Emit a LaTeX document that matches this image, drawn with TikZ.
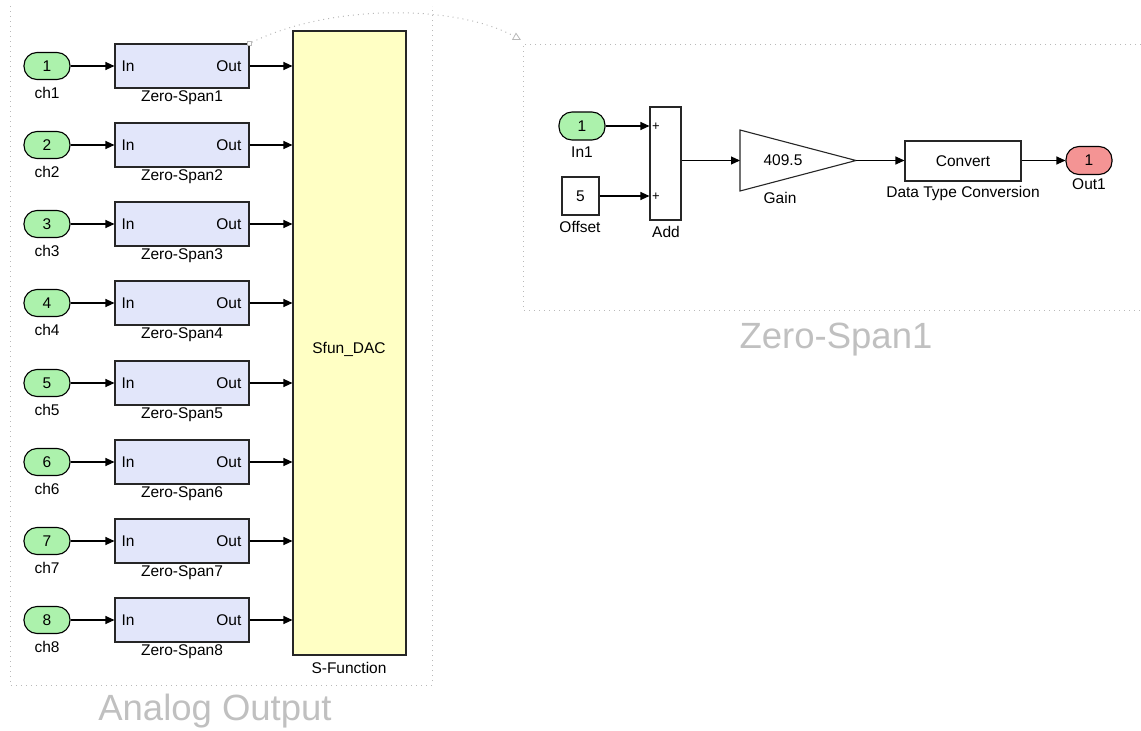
\documentclass[tikz,border=0pt]{standalone}
\usepackage{fontspec}
\setmainfont{Liberation Sans}
\usetikzlibrary{arrows.meta}

\definecolor{portgreen}{RGB}{172,242,172}
\definecolor{portred}{RGB}{244,148,148}
\definecolor{zsfill}{RGB}{226,230,250}
\definecolor{sffill}{RGB}{255,255,196}
\definecolor{framegray}{RGB}{185,185,185}
\definecolor{titlegray}{RGB}{192,192,192}

\begin{document}
\begin{tikzpicture}[x=1pt,y=-1pt,
  font=\fontsize{15.5}{18}\selectfont,
  inport/.style={draw=black, line width=1.1pt, rounded corners=13pt,
    minimum width=46pt, minimum height=27pt, inner sep=0pt},
  zsblock/.style={draw=black!85, line width=1.1pt, fill=zsfill,
    minimum width=134pt, minimum height=44pt, inner sep=0pt},
  plainblock/.style={draw=black!85, line width=1.1pt, fill=white, inner sep=0pt},
  wire/.style={line width=1.1pt, -{Triangle[length=9pt,width=8pt]}},
  txt/.style={inner sep=0pt},
  frame/.style={draw=framegray, line width=1pt, dash pattern=on 1pt off 4pt},
  title/.style={inner sep=0pt, text=titlegray, font=\fontsize{36.5}{40}\selectfont}]

\useasboundingbox (0,0) rectangle (1141,731);

% ---------------- Analog Output subsystem ----------------
\draw[frame] (10,6) -- (10,685) -- (432,685) -- (432,6);
\node[title] (aotitle) at (215,711) {Analog Output};

% S-Function block
\node[draw=black!85, line width=1.1pt, fill=sffill, minimum width=113pt,
      minimum height=624pt, inner sep=0pt] (sf) at (349.5,343) {};
\node[txt] (sfname) at (349,349) {Sfun\_DAC};
\node[txt] (sflabel) at (349,668) {S-Function};

% eight channels: inport -> Zero-Span -> S-Function
\foreach \i/\y in {1/66,2/145,3/224,4/303,5/383,6/462,7/541,8/620}{
  \node[inport, fill=portgreen] (p\i) at (47,\y) {\i};
  \node[txt] (pl\i) at (47,\y+27) {ch\i};
  \node[zsblock] (z\i) at (182,\y) {};
  \node[txt, anchor=west] (zin\i) at ([xshift=7pt]z\i.west) {In};
  \node[txt, anchor=east] (zout\i) at ([xshift=-8pt]z\i.east) {Out};
  \node[txt] (zl\i) at (182,\y+32) {Zero-Span\i};
  \draw[wire] (p\i.east) -- (z\i.west);
  \draw[wire] (z\i.east) -- (z\i.east -| sf.west);
}

% link from Zero-Span1 to its expanded view
\node[draw=framegray, line width=0.8pt, fill=white, minimum size=4pt,
      inner sep=0pt] (lnkstart) at (z1.north east) {};
\coordinate (lnkend) at (521,40);
\draw[frame, -{Triangle[open,length=8pt,width=8pt,line width=0.8pt]}]
  (lnkstart) .. controls (330,4) and (455,4) .. (lnkend);

% ---------------- Zero-Span1 contents ----------------
\draw[frame] (1141,44) -- (523,44) -- (523,310) -- (1141,310);
\node[title] (zstitle) at (836,340) {Zero-Span1};

\node[inport, fill=portgreen, minimum height=28pt] (in1) at (582,126) {1};
\node[txt] (in1l) at (582,152) {In1};

\node[plainblock, minimum width=37pt, minimum height=38pt] (offset) at (580.5,196) {5};
\node[txt] (offsetl) at (580,227) {Offset};

\node[plainblock, minimum width=31pt, minimum height=113pt] (add) at (665.5,163.5) {};
\node[txt, font=\fontsize{13}{15}\selectfont] (plus1) at (656,127) {+};
\node[txt, font=\fontsize{13}{15}\selectfont] (plus2) at (656,197) {+};
\node[txt] (addl) at (666,232) {Add};

\coordinate (gainin) at (740,160.5);
\coordinate (gainout) at (856,160.5);
\draw[black!85, line width=1.1pt, fill=white]
  (740,130) -- (gainout) -- (740,191) -- cycle;
\node[txt] (gainval) at (783,160) {409.5};
\node[txt] (gainl) at (780,198) {Gain};

\node[plainblock, minimum width=116pt, minimum height=40pt] (conv) at (963,161) {Convert};
\node[txt] (convl) at (963,193) {Data Type Conversion};

\node[inport, fill=portred, minimum height=28pt] (out1) at (1089,160.5) {1};
\node[txt] (out1l) at (1089,184) {Out1};

\draw[wire] (in1.east) -- (in1.east -| add.west);
\draw[wire] (offset.east) -- (offset.east -| add.west);
\draw[wire] (add.east |- gainin) -- (gainin);
\draw[wire] (gainout) -- (gainout -| conv.west);
\draw[wire] (conv.east |- out1) -- (out1.west);

\end{tikzpicture}
\end{document}
